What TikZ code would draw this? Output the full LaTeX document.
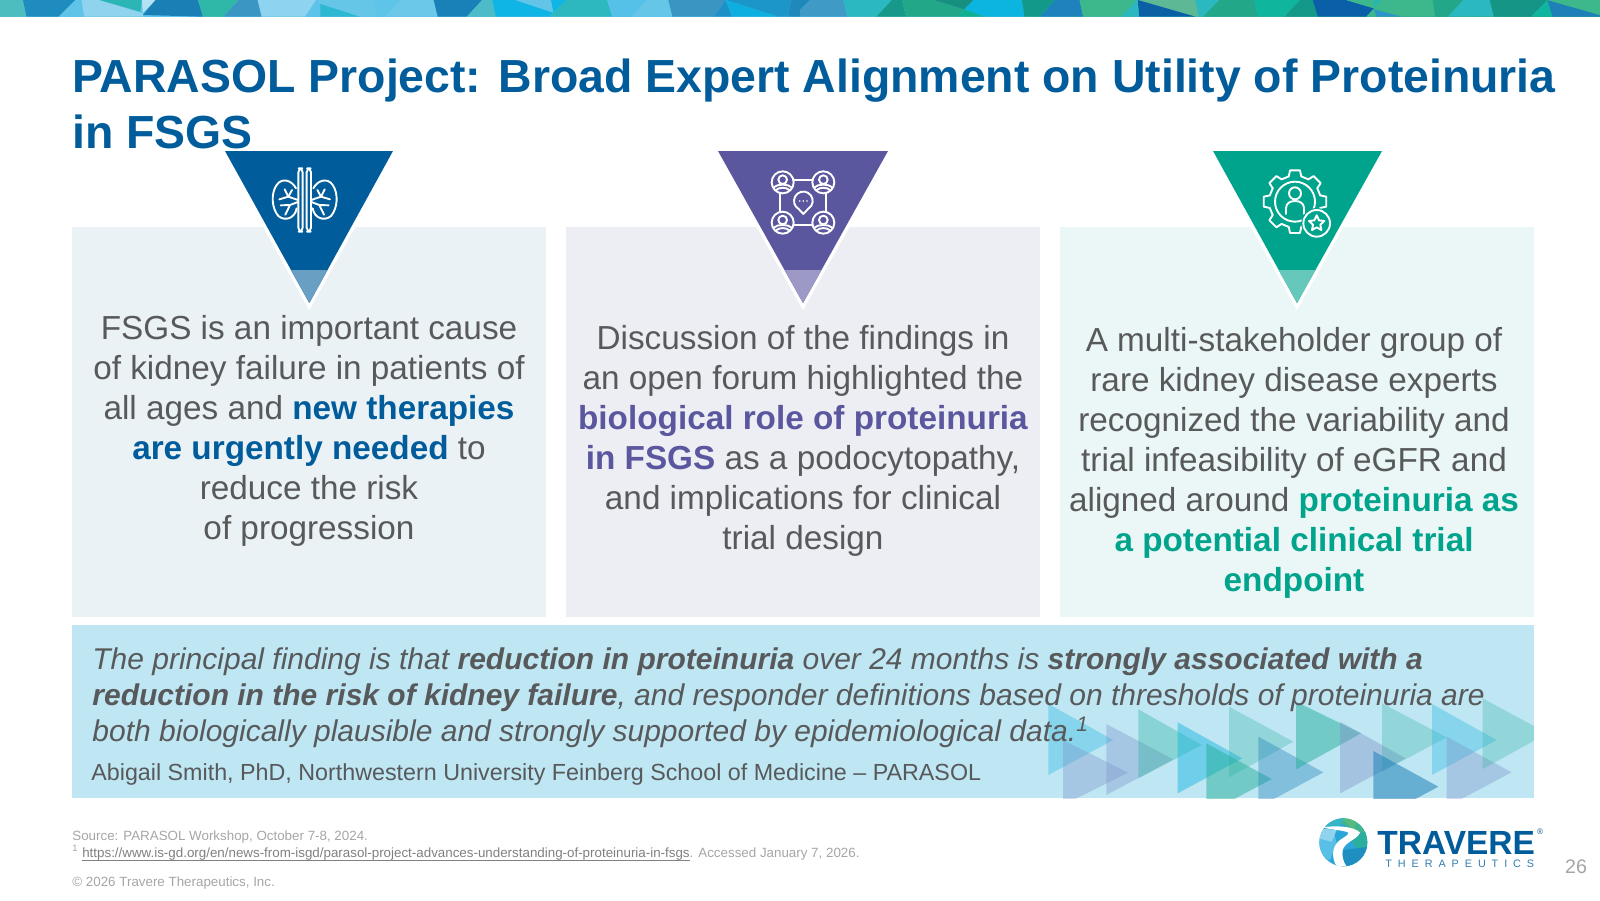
\documentclass[tikz,border=0pt]{standalone}
\usepackage{fontspec}
\setmainfont{Liberation Sans}
\usetikzlibrary{calc}
\definecolor{tblue}{HTML}{005C9B}
\definecolor{tpurple}{HTML}{5B579F}
\definecolor{tteal}{HTML}{00A48C}
\definecolor{tlblue}{HTML}{6A9FC4}
\definecolor{tlpurple}{HTML}{9C99C6}
\definecolor{tlteal}{HTML}{66C8BA}
\definecolor{bodygray}{HTML}{58595B}
\definecolor{footgray}{HTML}{A6A6A6}
\definecolor{dcyan}{HTML}{22B8E0}
\definecolor{dteal}{HTML}{25B09A}
\definecolor{dperi}{HTML}{7B8FC8}
\definecolor{dblue}{HTML}{1F80B8}
\definecolor{stripL}{HTML}{5FC4E8}
\definecolor{stripR}{HTML}{22A888}
\newcommand{\sP}[2]{\definecolor{tmpc}{HTML}{#1}\fill[tmpc] #2 -- cycle;}
\newcommand{\hl}[2]{\textcolor{#1}{\textbf{#2}}}
\newcommand{\tri}[7]{\fill[#1,opacity=#7] (#2,#3) -- (#5,#6) -- (#2,#4) -- cycle;}
\tikzset{
  bodytext/.style={text=bodygray,align=center,font=\fontsize{16.65pt}{20pt}\selectfont,inner sep=0pt},
  halo/.style={draw=white,line width=3.5pt,line join=miter},
  ico/.style={draw=white,line width=.95pt,line cap=round,line join=round},
  zoomunits/.style={x=.16667pt,y=-.16667pt},
  stripunits/.style={x=.2551pt,y=-.16667pt},
  foot/.style={text=footgray,anchor=west,inner sep=0pt,font=\fontsize{6.68pt}{8pt}\selectfont},
  titletext/.style={anchor=base west,inner sep=0pt,text=tblue,font=\bfseries\fontsize{23.2pt}{28pt}\selectfont},
}
\begin{document}
\begin{tikzpicture}[x=.5pt,y=-.5pt]
\useasboundingbox (0,0) rectangle (1600,900);
\fill[white] (0,0) rectangle (1600,900);
% top strip
\begin{scope}
\clip (0,0) rectangle (1600,16.6);
\fill[left color=stripL,right color=stripR,middle color=stripL] (0,0) rectangle (1600,16.6);
\begin{scope}[stripunits]
\sP{4DBDC0}{(0,0)--(45,0)--(52,50)--(0,50)}
\sP{1F8CC0}{(45,0)--(148,0)--(115,50)--(52,50)}
\sP{5FC4E8}{(148,0)--(165,0)--(168,50)--(115,50)}
\sP{8FD3EE}{(160,0)--(195,0)--(280,40)--(280,50)--(165,50)}
\sP{2BB5B5}{(195,0)--(278,0)--(275,35)}
\sP{B5E2F3}{(278,0)--(305,0)--(280,38)}
\sP{1A7FB5}{(305,0)--(388,0)--(398,50)--(280,45)}
\sP{2FB8A8}{(388,0)--(468,0)--(438,50)--(398,50)}
\sP{3B96C4}{(468,0)--(505,0)--(513,50)--(438,50)}
\sP{8ED3EF}{(505,0)--(620,0)--(598,50)--(513,50)}
\sP{66C6E8}{(620,0)--(730,0)--(740,50)--(705,50)--(628,12)}
\sP{5DC3E8}{(598,50)--(620,0)--(628,12)--(628,50)}
\sP{2BB8D0}{(628,12)--(705,50)--(628,50)}
\sP{5FC5E8}{(730,0)--(785,0)--(755,50)--(740,50)}
\sP{6CC8E8}{(785,0)--(850,0)--(858,50)--(755,50)}
\sP{1A80B8}{(850,0)--(945,0)--(915,50)--(858,50)}
\sP{4DBCC8}{(945,0)--(965,0)--(972,50)--(915,50)}
\sP{0FB5E5}{(965,0)--(1010,0)--(1085,38)--(1075,50)--(972,50)}
\sP{62C5E8}{(1010,0)--(1080,0)--(1085,38)}
\sP{0FB5E5}{(1080,0)--(1110,0)--(1085,38)}
\sP{2DB8C0}{(1110,0)--(1190,0)--(1200,50)--(1075,50)--(1085,38)}
\sP{55C0E8}{(1190,0)--(1268,0)--(1238,50)--(1200,50)}
\sP{66C6E8}{(1268,0)--(1310,0)--(1318,50)--(1238,50)}
\sP{3A95C2}{(1310,0)--(1422,0)--(1400,50)--(1318,50)}
\sP{1C96C8}{(1422,0)--(1550,0)--(1545,50)--(1525,50)}
\sP{1E90C8}{(1422,0)--(1435,50)--(1400,50)}
\sP{0CAFE0}{(1422,0)--(1525,50)--(1435,50)}
\sP{2088BB}{(1550,0)--(1568,0)--(1568,50)--(1545,50)}
\end{scope}
\begin{scope}[stripunits,xshift=400pt]
\sP{1F88BB}{(0,0)--(20,0)--(0,30)}
\sP{3F9BC5}{(0,30)--(20,0)--(85,0)--(93,50)--(0,50)}
\sP{2BB8C0}{(85,0)--(180,0)--(150,50)--(93,50)}
\sP{17998A}{(180,0)--(200,0)--(208,50)--(150,50)}
\sP{22A888}{(200,0)--(262,0)--(322,28)--(310,50)--(208,50)}
\sP{178F80}{(262,0)--(340,0)--(322,28)}
\sP{0CB5E0}{(340,0)--(435,0)--(440,50)--(360,50)--(322,28)}
\sP{10B090}{(322,28)--(360,50)--(310,50)}
\sP{12998A}{(435,0)--(500,0)--(470,50)--(440,50)}
\sP{1F82BC}{(500,0)--(548,0)--(555,50)--(470,50)}
\sP{3DB88C}{(548,0)--(660,0)--(630,50)--(555,50)}
\sP{2BB8C0}{(660,0)--(665,50)--(630,50)}
\sP{5CB895}{(662,0)--(775,0)--(782,50)--(775,50)}
\sP{0B5FA5}{(662,0)--(775,50)--(665,50)}
\sP{2BB8C0}{(775,0)--(822,0)--(790,50)--(782,50)}
\sP{22A888}{(822,0)--(890,0)--(898,50)--(790,50)}
\sP{10B59E}{(890,0)--(980,0)--(950,50)--(898,50)}
\sP{149888}{(980,0)--(1005,0)--(1015,50)--(950,50)}
\sP{0A5FA8}{(1005,0)--(1070,0)--(1125,25)--(1110,50)--(1015,50)}
\sP{3DB88C}{(1070,0)--(1125,0)--(1125,25)}
\sP{25B8B0}{(1125,0)--(1140,0)--(1125,25)}
\sP{3DB88C}{(1140,0)--(1240,0)--(1245,50)--(1110,50)--(1125,25)}
\sP{2E95C8}{(1125,28)--(1180,50)--(1130,50)}
\sP{22A888}{(1240,0)--(1300,0)--(1270,50)--(1245,50)}
\sP{2BB8C0}{(1300,0)--(1352,0)--(1360,50)--(1270,50)}
\sP{159585}{(1352,0)--(1465,0)--(1433,50)--(1360,50)}
\sP{10B59E}{(1465,0)--(1475,50)--(1433,50)}
\sP{1F80B8}{(1465,0)--(1568,45)--(1568,50)--(1475,50)}
\sP{3DB88C}{(1465,0)--(1568,0)--(1568,45)}
\end{scope}
\end{scope}
% title
\node[titletext] (titleA) at (72,92.5) {PARASOL Project: Broad Expert Alignment on Utility of Proteinuria};
\node[titletext] (titleB) at (72,148.5) {in FSGS};
% panels
\definecolor{pa}{HTML}{EBF2F6}\definecolor{pb}{HTML}{EDEEF4}\definecolor{pc}{HTML}{EBF6F6}\definecolor{band}{HTML}{BEE6F3}
\node[fill=pa,minimum width=237pt,minimum height=195pt,inner sep=0pt] (panelA) at (309.25,421.5) {};
\node[fill=pb,minimum width=237pt,minimum height=195pt,inner sep=0pt] (panelB) at (803,421.5) {};
\node[fill=pc,minimum width=237pt,minimum height=195pt,inner sep=0pt] (panelC) at (1297,421.5) {};
% band
\node[fill=band,minimum width=731pt,minimum height=86.5pt,inner sep=0pt] (bandbox) at (803,711.5) {};
\begin{scope}
\clip (72.5,625) rectangle (1534,798);
\begin{scope}[shift={(1030,690)},zoomunits]
\tri{dcyan}{55}{42}{255}{250}{150}{.35}
\tri{dperi}{99}{150}{345}{295}{248}{.35}
\tri{dperi}{229}{102}{315}{430}{208}{.35}
\tri{dteal}{325}{58}{265}{515}{165}{.35}
\tri{dcyan}{443}{97}{310}{637}{205}{.5}
\tri{dteal}{529}{160}{372}{725}{267}{.5}
\tri{dteal}{597}{50}{262}{790}{155}{.28}
\tri{dblue}{685}{140}{352}{880}{247}{.38}
\tri{dteal}{798}{35}{238}{993}{130}{.5}
\tri{dperi}{930}{95}{310}{1127}{205}{.4}
\tri{dteal}{1056}{40}{245}{1250}{142}{.28}
\tri{dblue}{1030}{183}{395}{1225}{290}{.55}
\tri{dcyan}{1206}{42}{255}{1400}{150}{.35}
\tri{dperi}{1250}{140}{350}{1445}{247}{.35}
\tri{dteal}{1358}{25}{237}{1552}{130}{.28}
\end{scope}
\end{scope}
% triangles
\begin{scope}
\clip (0,151) rectangle (1600,320);
\draw[halo] (225,151) -- (309.3,303) -- (393,151);
\draw[halo] (718,151) -- (803,303) -- (888,151);
\draw[halo] (1213,151) -- (1297,303) -- (1382,151);
\end{scope}
\fill[tblue] (225,151) -- (393,151) -- (309.3,303) -- cycle;
\fill[tlblue] (290.8,270) -- (327.6,270) -- (309.3,303) -- cycle;
\fill[tpurple] (718,151) -- (888,151) -- (803,303) -- cycle;
\fill[tlpurple] (784.5,270) -- (821.5,270) -- (803,303) -- cycle;
\fill[tteal] (1213,151) -- (1382,151) -- (1297,303) -- cycle;
\fill[tlteal] (1278.5,270) -- (1315.5,270) -- (1297,303) -- cycle;
% kidney icon
\begin{scope}[shift={(210,140)},zoomunits]
\draw[ico,rounded corners=2pt] (265,85) rectangle (278,275);
\draw[ico,rounded corners=2pt] (290,85) rectangle (303,275);
\foreach \s in {1,-1}{
\begin{scope}[shift={(284,0)},xscale=\s]
\draw[ico] (-26,145) .. controls (-39,120) and (-69,112) .. (-84,135) .. controls (-102,160) and (-99,205) .. (-79,228) .. controls (-59,245) and (-29,235) .. (-24,205);
\draw[ico] (-20,180) -- (-49,170) -- (-60,148);
\draw[ico] (-49,170) -- (-76,178);
\draw[ico] (-49,170) -- (-38,150);
\draw[ico] (-20,186) -- (-44,195) -- (-58,224);
\draw[ico] (-44,195) -- (-72,196);
\end{scope}}
\end{scope}
% network icon
\begin{scope}[shift={(700,140)},zoomunits]
\draw[ico,rounded corners=7pt] (240,120) rectangle (378,255);
\foreach \cx/\cy in {248/127,370/127,248/248,370/248}{
\fill[tpurple] (\cx,\cy) circle[radius=33];
\draw[ico] (\cx,\cy) circle[radius=33];
\draw[ico] (\cx,\cy-8) circle[radius=13];
\draw[ico] (\cx-27,\cy+15) .. controls (\cx-15,\cy+4) and (\cx+15,\cy+4) .. (\cx+27,\cy+15);
\draw[ico] (\cx-20,\cy+23) .. controls (\cx-10,\cy+14) and (\cx+10,\cy+14) .. (\cx+20,\cy+23);
}
\draw[ico] (296,207) arc[start angle=120,end angle=420,radius=28] -- (310,222) -- cycle;
\foreach \dx in {-11,0,11} \fill[white] (310+\dx,183) circle[radius=2.6];
\end{scope}
% gear icon
\begin{scope}[shift={(1200,140)},zoomunits]
\foreach \a in {0,45,...,315}{
\draw[ico] ($(285,185)+(\a-14:78)$) -- ($(285,185)+(\a-9:95)$) -- ($(285,185)+(\a+9:95)$) -- ($(285,185)+(\a+14:78)$) -- ($(285,185)+(\a+31:78)$);
}
\draw[ico] (285,185) circle[radius=60];
\draw[ico] (285,160) circle[radius=18];
\draw[ico] (258,222) -- (258,205) .. controls (258,190) and (270,183) .. (285,183) .. controls (300,183) and (312,190) .. (312,205) -- (312,222);
\fill[tteal] (350,250) circle[radius=46];
\draw[ico] (350,250) circle[radius=40];
\draw[ico] (350,226) -- (357,241) -- (373,243) -- (361,254) -- (364,270) -- (350,262) -- (336,270) -- (339,254) -- (327,243) -- (343,241) -- cycle;
\end{scope}
% panel text
\node[bodytext] (textA) at (309,430.5) {FSGS is an important cause\\of kidney failure in patients of\\all ages and \hl{tblue}{new therapies}\\\hl{tblue}{are urgently needed} to\\reduce the risk\\of progression};
\node[bodytext] (textB) at (803,440.5) {Discussion of the findings in\\an open forum highlighted the\\\hl{tpurple}{biological role of proteinuria}\\\hl{tpurple}{in FSGS} as a podocytopathy,\\and implications for clinical\\trial design};
\node[bodytext] (textC) at (1294,462.5) {A multi-stakeholder group of\\rare kidney disease experts\\recognized the variability and\\trial infeasibility of eGFR and\\aligned around \hl{tteal}{proteinuria as}\\\hl{tteal}{a potential clinical trial}\\\hl{tteal}{endpoint}};
% band text
\node[anchor=west,inner sep=0pt,align=left,text=bodygray,font=\itshape\fontsize{15pt}{18.1pt}\selectfont] (quote) at (92,698) {The principal finding is that \textbf{reduction in proteinuria} over 24 months is \textbf{strongly associated with a}\\\textbf{reduction in the risk of kidney failure}, and responder definitions based on thresholds of proteinuria are\\both biologically plausible and strongly supported by epidemiological data.\textsuperscript{1}};
\node[anchor=west,inner sep=0pt,text=bodygray,font=\fontsize{11.64pt}{15pt}\selectfont] (attrib) at (91,774) {Abigail Smith, PhD, Northwestern University Feinberg School of Medicine – PARASOL};
% footer
\node[foot] (src) at (72,837) {Source: PARASOL Workshop, October 7-8, 2024.};
\node[foot] (ref) at (72,853) {\textsuperscript{1} \textcolor{gray}{\underline{\smash{https://www.is-gd.org/en/news-from-isgd/parasol-project-advances-understanding-of-proteinuria-in-fsgs}}}. Accessed January 7, 2026.};
\node[foot] (copy) at (72,883) {© 2026 Travere Therapeutics, Inc.};
\node[inner sep=0pt,text=footgray,font=\fontsize{9.8pt}{12pt}\selectfont] (pagenum) at (1576,867) {26};
% logo
\begin{scope}[shift={(1300,800)},zoomunits]
\clip (130,127) circle[radius=72];
\sP{2CA6D8}{(50,50)--(210,50)--(210,210)--(50,210)}
\sP{3FB58E}{(90,50)--(210,50)--(210,110)--(150,85)}
\sP{56B97D}{(120,50)--(175,50)--(160,90)}
\sP{2AAE9E}{(150,110)--(210,90)--(210,160)--(165,140)}
\sP{1E8FBF}{(130,150)--(210,140)--(190,210)--(120,210)}
\sP{58BFE6}{(50,120)--(100,90)--(110,130)--(90,180)--(50,170)}
\sP{8FD3EE}{(60,85)--(110,90)--(95,125)--(55,115)}
\sP{35B5C5}{(70,60)--(130,55)--(120,78)--(70,80)}
\fill[white] (68,82) .. controls (110,75) and (165,80) .. (180,98) .. controls (170,120) and (135,125) .. (128,150) .. controls (125,170) and (130,185) .. (140,200) -- (110,200) .. controls (90,165) and (100,135) .. (120,120) .. controls (135,110) and (145,105) .. (145,98) .. controls (130,90) and (95,90) .. (68,82) -- cycle;
\end{scope}
\node[anchor=base west,inner sep=0pt,text=tblue,font=\bfseries\fontsize{16.75pt}{18pt}\selectfont] (logoA) at (1377,854.5) {TRAVERE};
\node[inner sep=0pt,text=tblue,font=\fontsize{4pt}{5pt}\selectfont] (logoR) at (1540,832) {®};
\node[anchor=west,inner sep=0pt,text=tblue!80,font=\fontsize{5.4pt}{7pt}\selectfont] (logoB) at (1385,863.5) {\addfontfeature{LetterSpace=55}THERAPEUTICS};
\end{tikzpicture}
\end{document}
